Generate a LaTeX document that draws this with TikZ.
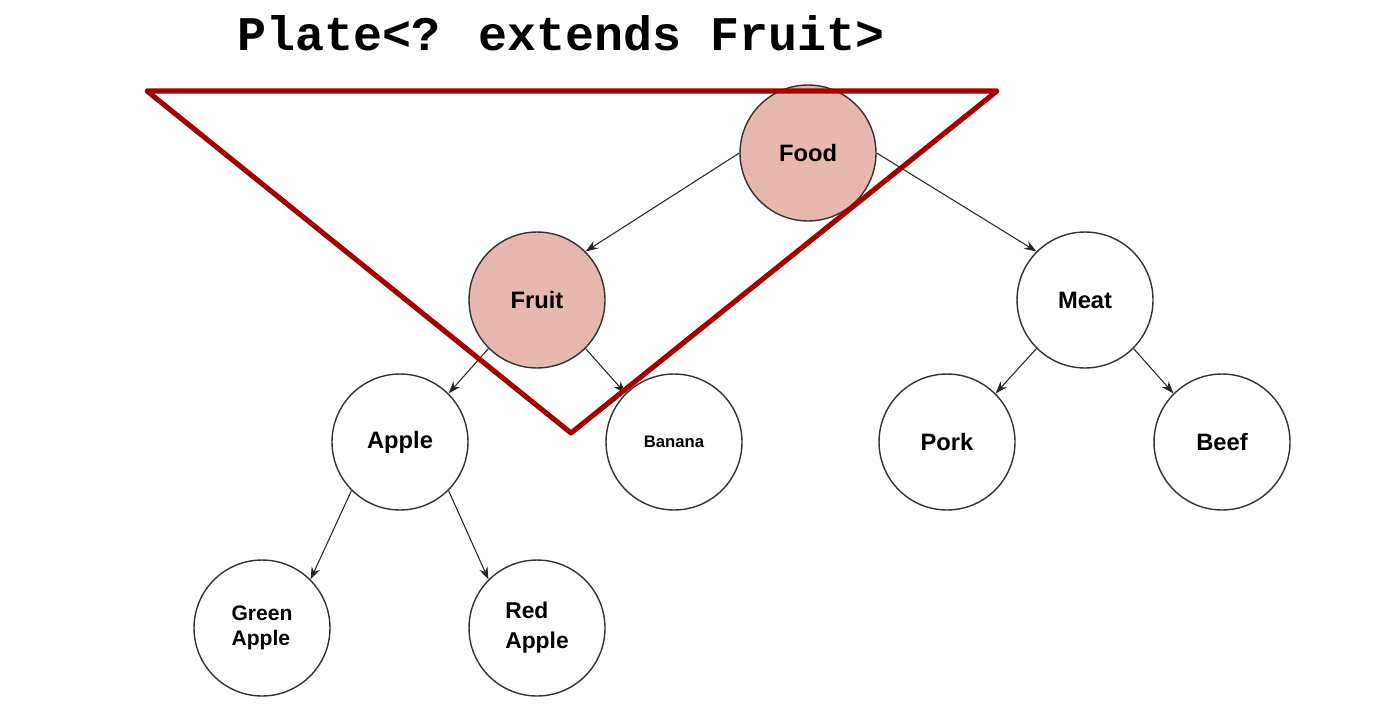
\documentclass[tikz,border=0pt]{standalone}
\usepackage{fontspec}
\setmainfont{Liberation Sans}
\newfontfamily\titlefont{Liberation Mono}
\usetikzlibrary{arrows.meta}
\definecolor{bordeaux}{RGB}{165,0,0}
\definecolor{rosefill}{RGB}{230,184,175}
\begin{document}
\begin{tikzpicture}[x=0.02cm, y=-0.02cm,
    kind/.style={circle, draw=black!80, line width=0.8pt, minimum size=2.72cm, inner sep=0pt,
                 font=\bfseries\fontsize{13.5}{16}\selectfont},
    picked/.style={kind, fill=rosefill},
    link/.style={-{Stealth[length=7pt, width=5pt]}, black!85, line width=0.6pt},
    bound/.style={bordeaux, line width=2.9pt, line join=round}]
                \useasboundingbox (0,0) rectangle (1381,706);

                % Titre
                \node (title) at (561,33) {\titlefont\bfseries\fontsize{27.5}{30}\selectfont Plate<? extends Fruit>};

                % Sommets de la hiérarchie
                \node[picked] (food)  at (808,153) {Food};
                \node[picked] (fruit) at (537,300) {Fruit};
                \node[kind]   (meat)  at (1085,300) {Meat};
                \node[kind]   (apple) at (400,442) {Apple};
                \node[kind, font=\bfseries\fontsize{9.5}{11}\selectfont] (banana) at (674,442) {Banana};
                \node[kind]   (pork)  at (947,442) {Pork};
                \node[kind]   (beef)  at (1222,442) {Beef};
                \node[kind, align=left, font=\bfseries\fontsize{12}{14}\selectfont] (green) at (262,628) {Green\\Apple};
                \node[kind, align=left, font=\bfseries\fontsize{13}{17}\selectfont] (red) at (537,628) {Red\\Apple};

                % Liens parent -> enfant
                \draw[link] (food.west)  -- (fruit.45);
                \draw[link] (food.east)  -- (meat.135);
                \draw[link] (fruit.225)  -- (apple.45);
                \draw[link] (fruit.-45)  -- (banana.135);
                \draw[link] (meat.225)   -- (pork.45);
                \draw[link] (meat.-45)   -- (beef.135);
                \draw[link] (apple.225)  -- (green.45);
                \draw[link] (apple.-45)  -- (red.135);

                % Borne supérieure : triangle
                \coordinate (T0) at (147,91);
                \coordinate (T1) at (997,91);
                \coordinate (T2) at (571,433);
                \draw[bound] (T0) -- (T1) -- (T2) -- cycle;
            \end{tikzpicture}
\end{document}
